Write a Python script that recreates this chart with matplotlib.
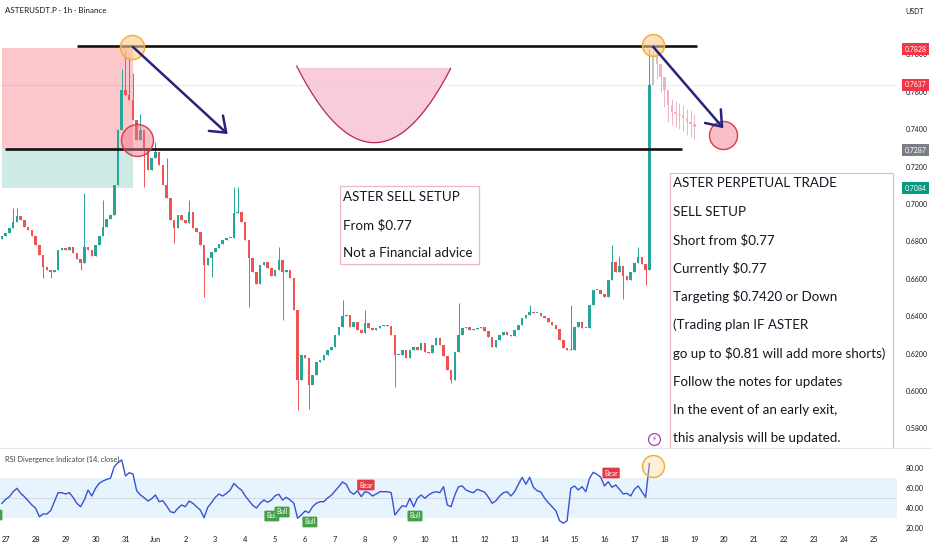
import numpy as np
import matplotlib
matplotlib.use("Agg")
import matplotlib.pyplot as plt
from matplotlib.patches import Rectangle, Polygon
from matplotlib.lines import Line2D
from matplotlib.transforms import offset_copy, blended_transform_factory

plt.rcParams['font.family'] = ['Lato', 'DejaVu Sans']

# ---------------- data ----------------
# 3-hour bars, first bar 2025-05-26 21:00 ; x unit = days after May 27 00:00
bar_step_days = 0.125
first_bar_day = -0.125

closes = [
    0.6829, 0.6845, 0.6872, 0.6904, 0.6936, 0.6914, 0.6877, 0.6861, 0.6829, 0.6781,
    0.6727, 0.6663, 0.6647, 0.6636, 0.6647, 0.6754, 0.6765, 0.6754, 0.6770, 0.6738,
    0.6706, 0.6684, 0.6770, 0.6754, 0.6722, 0.6781, 0.6829, 0.6877, 0.6920, 0.6941,
    0.7102, 0.7396, 0.7610, 0.7583, 0.7556, 0.7449, 0.7342, 0.7396, 0.7299, 0.7182,
    0.7246, 0.7278, 0.7209, 0.7102, 0.7032, 0.6914, 0.6872, 0.6941, 0.6914, 0.6898,
    0.6957, 0.6872, 0.6850, 0.6781, 0.6674, 0.6711, 0.6743, 0.6765, 0.6786, 0.6807,
    0.6818, 0.6818, 0.6952, 0.6957, 0.6904, 0.6807, 0.6711, 0.6636, 0.6572, 0.6674,
    0.6690, 0.6658, 0.6615, 0.6647, 0.6701, 0.6636, 0.6647, 0.6604, 0.6433, 0.6059,
    0.6193, 0.6176, 0.6032, 0.6086, 0.6155, 0.6166, 0.6193, 0.6219, 0.6235, 0.6299,
    0.6342, 0.6401, 0.6406, 0.6342, 0.6369, 0.6326, 0.6310, 0.6364, 0.6337, 0.6326,
    0.6337, 0.6348, 0.6353, 0.6348, 0.6299, 0.6193, 0.6193, 0.6219, 0.6176, 0.6219,
    0.6235, 0.6219, 0.6257, 0.6209, 0.6203, 0.6246, 0.6283, 0.6246, 0.6187, 0.6112,
    0.6059, 0.6209, 0.6299, 0.6337, 0.6342, 0.6326, 0.6332, 0.6337, 0.6342, 0.6321,
    0.6289, 0.6235, 0.6273, 0.6299, 0.6316, 0.6299, 0.6294, 0.6326, 0.6353, 0.6390,
    0.6406, 0.6422, 0.6417, 0.6417, 0.6401, 0.6390, 0.6369, 0.6353, 0.6332, 0.6273,
    0.6230, 0.6219, 0.6219, 0.6342, 0.6369, 0.6337, 0.6337, 0.6460, 0.6540, 0.6540,
    0.6519, 0.6503, 0.6594, 0.6690, 0.6636, 0.6668, 0.6615, 0.6594, 0.6636, 0.6684,
    0.6717, 0.6679, 0.6647, 0.7637,
]
first_open = 0.6815

upper_wicks = {3: 0.6980, 4: 0.6980, 22: 0.7059, 27: 0.7020, 32: 0.7720, 33: 0.7824,
               34: 0.7790, 35: 0.7700, 37: 0.7480, 41: 0.7330, 44: 0.7246, 50: 0.7020,
               62: 0.7090, 63: 0.7090, 74: 0.6770, 91: 0.6487, 97: 0.6433, 122: 0.6470,
               141: 0.6460, 152: 0.6460, 163: 0.6780, 165: 0.6720, 170: 0.6770, 173: 0.7828}
lower_wicks = {11: 0.6604, 13: 0.6604, 21: 0.6647, 38: 0.7090, 46: 0.6790, 54: 0.6503,
               56: 0.6610, 66: 0.6450, 75: 0.6380, 79: 0.5900, 82: 0.5905, 105: 0.6020,
               120: 0.6043, 166: 0.6490, 172: 0.6567}

# projected (faded) bars drawn after the last real bar
ghost_closes = [0.7800, 0.7750, 0.7680, 0.7610, 0.7530, 0.7490, 0.7480, 0.7475, 0.7460, 0.7440, 0.7430, 0.7410]
ghost_highs  = [0.7820, 0.7790, 0.7720, 0.7660, 0.7600, 0.7560, 0.7550, 0.7540, 0.7530, 0.7510, 0.7500, 0.7480]
ghost_lows   = [0.7740, 0.7670, 0.7600, 0.7520, 0.7440, 0.7420, 0.7410, 0.7400, 0.7390, 0.7370, 0.7360, 0.7350]

rsi_values = [
    44.4, 48.4, 51.0, 56.0, 59.4, 54.4, 51.0, 47.0, 42.7, 39.4,
    31.0, 33.7, 33.7, 37.0, 46.0, 55.0, 55.0, 53.7, 55.0, 50.4,
    44.4, 41.0, 47.7, 57.7, 51.7, 59.4, 64.4, 66.7, 68.4, 69.4,
    81.0, 85.0, 87.7, 71.7, 75.0, 73.7, 57.0, 52.7, 50.0, 46.7,
    49.0, 52.7, 46.0, 47.0, 41.7, 36.0, 35.0, 39.4, 42.7, 41.0,
    46.7, 44.4, 41.0, 37.7, 30.0, 40.4, 45.0, 50.4, 53.7, 51.7,
    54.4, 57.7, 64.4, 60.4, 57.7, 51.7, 47.0, 42.4, 39.7, 44.4,
    47.7, 45.4, 47.7, 52.0, 53.4, 47.7, 50.4, 47.7, 44.4, 29.4,
    32.7, 36.7, 35.0, 41.0, 44.4, 46.0, 46.0, 49.7, 52.4, 56.7,
    61.0, 65.7, 63.4, 56.0, 53.4, 57.0, 51.0, 56.0, 55.0, 51.7,
    53.7, 56.0, 56.0, 56.0, 55.0, 32.7, 37.7, 42.0, 41.0, 49.4,
    41.0, 49.4, 52.7, 49.4, 52.7, 55.0, 56.0, 55.0, 61.0, 42.7,
    41.0, 52.7, 61.0, 61.7, 57.7, 56.0, 55.0, 58.4, 57.0, 55.4,
    50.4, 44.4, 47.0, 51.7, 55.0, 56.0, 51.7, 56.0, 63.4, 70.4,
    63.4, 70.4, 60.4, 57.0, 55.7, 49.4, 45.0, 41.0, 37.0, 27.0,
    24.4, 27.0, 59.4, 61.7, 57.7, 61.0, 56.0, 69.4, 75.4, 73.4,
    70.4, 61.7, 66.0, 60.4, 62.7, 58.4, 53.7, 54.4, 51.7, 58.4,
    61.7, 56.0, 50.4, 84.0,
]

# divergence labels (day, rsi, text)
div_labels = [(-0.36, 32.7, "Bull"), (8.89, 31.7, "Bull"), (9.23, 35.7, "Bull"),
              (10.16, 25.7, "Bull"), (12.03, 62.7, "Bear"), (13.67, 31.7, "Bull"),
              (20.22, 74.7, "Bear")]

date_ticks = list(range(0, 30))
date_labels = ["27", "28", "29", "30", "31", "Jun", "2", "3", "4", "5", "6", "7", "8", "9",
               "10", "11", "12", "13", "14", "15", "16", "17", "18", "19", "20", "21",
               "22", "23", "24", "25"]
price_ticks = [0.58, 0.60, 0.62, 0.64, 0.66, 0.68, 0.70, 0.72, 0.74, 0.76, 0.78]
rsi_ticks = [20, 40, 60, 80]
price_tags = [(0.7828, '#f23645'), (0.7637, '#f23645'), (0.7287, '#7b7e87'), (0.7084, '#089981')]
current_price = 0.7637

# drawings (in data units)
top_line = (2.38, 23.09, 0.7847)
low_line = (-0.02, 22.59, 0.7294)
pos_box = dict(start=-0.124, end=4.25, stop=0.7836, entry=0.7294, target=0.7087)
arrows = [((4.25, 0.7840), (7.415, 0.7374)), ((21.63, 0.7840), (23.97, 0.7405))]
orange_circles = [(4.228, 0.7841, 17.3), (21.63, 0.7850, 15.8)]
red_circles = [(4.375, 0.7342, 23.0), (23.97, 0.7369, 20.2)]
arc = dict(left=9.72, right=14.86, bottom_x=12.31, top=0.7731, bottom=0.7328)

note1_lines = ["ASTER SELL SETUP", "From $0.77", "Not a Financial advice"]
note1_box = (11.17, 15.81, 0.6679, 0.7096)
note1_anchor = (11.28, 0.7039)
note2_lines = ["ASTER PERPETUAL TRADE", "SELL SETUP", "Short from $0.77", "Currently $0.77",
               "Targeting $0.7420 or Down", "(Trading plan IF ASTER",
               "go up to $0.81 will add more shorts)", "Follow the notes for updates",
               "In the event of an early exit,", "this analysis will be updated."]
note2_box = (22.19, 29.64, 0.5600, 0.7167)
note2_anchor = (22.30, 0.7111)
line_gap_px = 28.33

# ---------------- figure ----------------
fig = plt.figure(figsize=(9.32, 5.5), dpi=100)
fig.patch.set_facecolor('white')
ax = fig.add_axes([0, 102 / 550, 897 / 932, 448 / 550])
axr = fig.add_axes([0, 17 / 550, 897 / 932, 85 / 550])
for a in (ax, axr):
    a.set_facecolor('none')
    for s in a.spines.values():
        s.set_visible(False)
    a.set_xlim(-0.1904, 29.77)
ax.set_ylim(0.56952, 0.80909)
axr.set_ylim(14.7, 99.7)

UP, DN = '#26a69a', '#ef5350'
TXT = '#131722'

# candles
n = len(closes)
t = first_bar_day + bar_step_days * np.arange(n)
c = np.array(closes)
o = np.concatenate([[first_open], c[:-1]])
hi = np.maximum(o, c)
lo = np.minimum(o, c)
for k, v in upper_wicks.items():
    hi[k] = v
for k, v in lower_wicks.items():
    lo[k] = v
col = np.where(c >= o, UP, DN)
ax.vlines(t, lo, hi, colors=col, lw=0.7, zorder=2)
ax.bar(t, np.maximum(np.abs(c - o), 0.0004), bottom=np.minimum(o, c), width=0.085,
       color=col, lw=0, zorder=2)

# ghost projection
g = np.array(ghost_closes)
tg = first_bar_day + bar_step_days * np.arange(n, n + len(g))
go = np.concatenate([[c[-1]], g[:-1]])
gcol = np.where(g >= go, '#b8c9c6', '#f2b3bf')
ax.vlines(tg, ghost_lows, ghost_highs, colors=gcol, lw=0.7, zorder=2)
ax.bar(tg, np.maximum(np.abs(g - go), 0.0004), bottom=np.minimum(g, go), width=0.085,
       color=gcol, lw=0, zorder=2)

ax.axhline(current_price, color='#ececf0', lw=0.8, zorder=0)

# position box
ax.add_patch(Rectangle((pos_box['start'], pos_box['entry']), pos_box['end'] - pos_box['start'],
                       pos_box['stop'] - pos_box['entry'], fc='#f23645', alpha=0.28, lw=0, zorder=1))
ax.add_patch(Rectangle((pos_box['start'], pos_box['target']), pos_box['end'] - pos_box['start'],
                       pos_box['entry'] - pos_box['target'], fc='#089981', alpha=0.2, lw=0, zorder=1))

# horizontal lines
for x0, x1, yv in (top_line, low_line):
    ax.plot([x0, x1], [yv, yv], color='#111111', lw=1.9, zorder=3, solid_capstyle='butt')

# arc
xs = np.linspace(arc['left'], arc['right'], 80)
half = (arc['right'] - arc['left']) / 2
ys = arc['bottom'] + (arc['top'] - arc['bottom']) * ((xs - arc['bottom_x']) / half) ** 2
ax.fill_between(xs, ys, arc['top'], color='#f7c4d4', lw=0, zorder=1, alpha=0.85)
ax.plot(xs, ys, color='#b8285a', lw=0.9, zorder=2)

# circles
for x, y, ms in orange_circles:
    ax.plot([x], [y], 'o', ms=ms, mfc=(0.99, 0.80, 0.55, 0.6), mec='#eeb23e', mew=1.1, zorder=4)
for x, y, ms in red_circles:
    ax.plot([x], [y], 'o', ms=ms, mfc=(0.95, 0.45, 0.52, 0.45), mec='#d63a4c', mew=1.0, zorder=4)

# arrows
for (x0, y0), (x1, y1) in arrows:
    ax.annotate('', xy=(x1, y1), xytext=(x0, y0),
                arrowprops=dict(arrowstyle='->,head_length=1.0,head_width=0.75', lw=1.8,
                                color='#27237a', shrinkA=0, shrinkB=0), zorder=5)

# notes
def note(box, anchor, lines, fs):
    x0, x1, y0, y1 = box
    ax.add_patch(Rectangle((x0, y0), x1 - x0, y1 - y0, fc='white', ec='#efb6c2', lw=0.9, zorder=3))
    for i, line in enumerate(lines):
        tr = offset_copy(ax.transData, fig=fig, x=0, y=-i * line_gap_px, units='dots')
        ax.text(anchor[0], anchor[1], line, transform=tr, fontsize=fs, color=TXT,
                va='center', ha='left', zorder=6)

note(note1_box, note1_anchor, note1_lines, 9.6)
note(note2_box, note2_anchor, note2_lines, 9.6)

# lightning icon
ax.plot([21.65], [0.5743], 'o', ms=8.5, mfc='white', mec='#9c27b0', mew=0.8, zorder=6)
ax.text(21.65, 0.5743, '\u26A1', fontsize=5, color='#9c27b0', ha='center', va='center',
        family=['DejaVu Sans'], zorder=7)

# price axis
ax.yaxis.tick_right()
ax.set_yticks(price_ticks)
ax.set_yticklabels([f"{p:.4f}" for p in price_ticks])
ax.tick_params(axis='y', length=0, pad=6.5, labelsize=5, labelcolor=TXT)
ax.set_xticks([])
btr = blended_transform_factory(ax.transAxes, ax.transData)
for p, cc in price_tags:
    ax.text(1.0206, p, f"{p:.4f}", transform=btr, ha='center', va='center', fontsize=5,
            color='white', clip_on=False, zorder=8,
            bbox=dict(boxstyle='square,pad=0.35', fc=cc, ec='none'))

# RSI panel
axr.axhspan(30, 70, color='#2196f3', alpha=0.1, lw=0, zorder=0)
axr.axhline(50, color='#cfd4dc', lw=0.6, zorder=0)
tr_ = first_bar_day + bar_step_days * np.arange(len(rsi_values))
axr.plot(tr_, rsi_values, color='#3553d2', lw=1.0, zorder=2)
for x, y, s in div_labels:
    fc = '#43a047' if s == 'Bull' else '#e53945'
    axr.text(x, y, s, fontsize=4.8, color='white', ha='center', va='center', zorder=5,
             bbox=dict(boxstyle='round,pad=0.28,rounding_size=0.15', fc=fc, ec='none'))
axr.plot([21.61], [81.7], 'o', ms=15.8, mfc=(0.99, 0.82, 0.55, 0.35), mec='#eeb23e', mew=1.1,
         zorder=4, clip_on=False)
axr.text(5 / 897, 0.87, "RSI Divergence Indicator (14, close)", transform=axr.transAxes,
         fontsize=5.3, color='#444444', va='center', ha='left')
axr.yaxis.tick_right()
axr.set_yticks(rsi_ticks)
axr.set_yticklabels([f"{v:.2f}" for v in rsi_ticks])
axr.tick_params(axis='y', length=0, pad=6.5, labelsize=5, labelcolor=TXT)
axr.set_xticks(date_ticks)
axr.set_xticklabels(date_labels)
axr.tick_params(axis='x', length=0, pad=2.5, labelsize=5.3, labelcolor=TXT)

fig.add_artist(Line2D([0, 1], [102 / 550, 102 / 550], color='#e6e8ee', lw=0.8))

fig.text(5 / 932, 1 - 10.7 / 550, "ASTERUSDT.P · 1h · Binance", fontsize=5.8, color=TXT,
         va='center', ha='left')
fig.text(915 / 932, 1 - 11 / 550, "USDT", fontsize=5, color=TXT, va='center', ha='center')

fig.savefig('out.png', dpi=100, facecolor='white')
